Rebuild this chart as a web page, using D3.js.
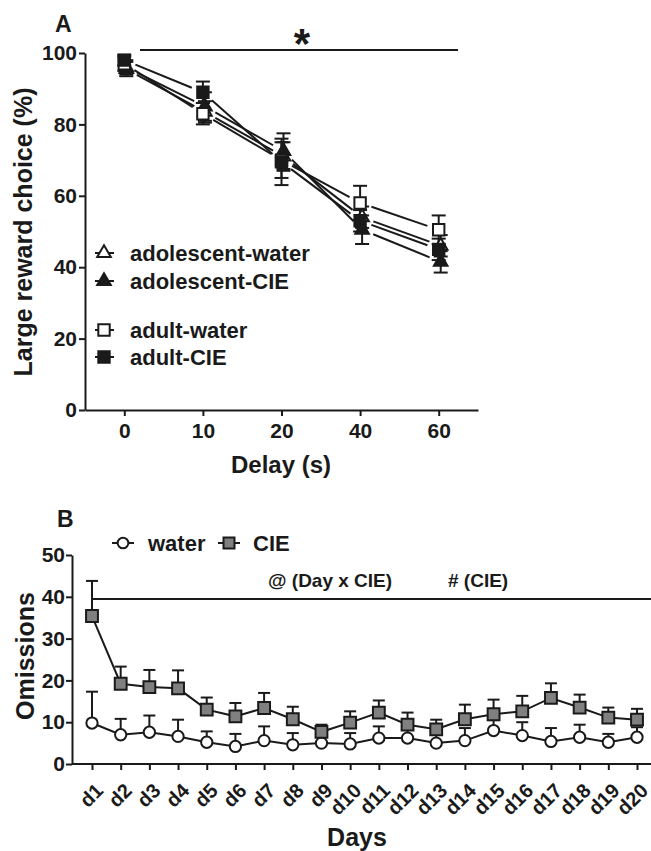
<!DOCTYPE html>
<html>
<head>
<meta charset="utf-8">
<script src="https://cdn.jsdelivr.net/npm/d3@7"></script>
<style>
  body { margin: 0; background: #fff; }
  svg { display: block; }
  text { font-family: "Liberation Sans", Arial, sans-serif; font-weight: bold; fill: #1a1a1a; }
</style>
</head>
<body>
<script>
// ----- Panel A data -----
const delays = ["0", "10", "20", "40", "60"];
const adolWaterMean = [95.5, 83.5, 71, 54, 46];
const adolWaterSem  = [2, 3, 4, 3, 3];
const adolCieMean   = [96, 85, 72.5, 50.5, 41.5];
const adolCieSem    = [2, 4, 5, 4, 3];
const adultWaterMean = [97, 83, 70, 58, 50.5];
const adultWaterSem  = [2, 3, 5, 4.8, 4];
const adultCieMean   = [98, 89, 69.5, 53, 45];
const adultCieSem    = [1.5, 3, 6.5, 3, 3];
const yTicksA = [0, 20, 40, 60, 80, 100];

// ----- Panel B data -----
const days = ["d1","d2","d3","d4","d5","d6","d7","d8","d9","d10",
              "d11","d12","d13","d14","d15","d16","d17","d18","d19","d20"];
const waterMean = [9.8, 7.0, 7.6, 6.6, 5.2, 4.2, 5.6, 4.6, 5.0, 4.8,
                   6.2, 6.2, 5.0, 5.6, 8.0, 6.8, 5.4, 6.4, 5.2, 6.4];
const waterSem  = [7.5, 3.8, 4.0, 4.0, 2.6, 3.0, 3.4, 2.8, 2.0, 2.6,
                   2.8, 2.9, 2.6, 3.0, 2.5, 3.2, 3.2, 3.0, 2.0, 2.4];
const cieMean   = [35.4, 19.2, 18.4, 18.1, 13.0, 11.4, 13.4, 10.7, 7.7, 9.9,
                   12.3, 9.4, 8.3, 10.7, 11.9, 12.6, 15.8, 13.5, 11.1, 10.6];
const cieSem    = [8.4, 4.1, 4.1, 4.3, 2.9, 3.2, 3.6, 3.0, 1.7, 2.7,
                   2.9, 2.9, 2.3, 3.5, 3.5, 3.7, 3.5, 3.1, 2.4, 2.6];
const yTicksB = [0, 10, 20, 30, 40, 50];

const ink = "#1a1a1a";
const svg = d3.select("body").append("svg").attr("width", 651).attr("height", 851);

function styleAxis(g, fontSize) {
  g.select(".domain").attr("stroke", ink).attr("stroke-width", 2);
  g.selectAll(".tick line").attr("stroke", ink).attr("stroke-width", 2);
  g.selectAll(".tick text").attr("fill", ink).style("font-size", fontSize + "px")
    .style("font-family", "'Liberation Sans', Arial, sans-serif").style("font-weight", "bold");
}

// ================= Panel A =================
const xA = d3.scalePoint().domain(delays).range([85, 478]).padding(0.5);
const yA = d3.scaleLinear().domain([0, 100]).range([410, 53]);

const gA = svg.append("g");

gA.append("g").attr("transform", "translate(0,410)")
  .call(d3.axisBottom(xA).tickSize(6).tickSizeOuter(0).tickPadding(7))
  .call(g => styleAxis(g, 21));
gA.append("g").attr("transform", "translate(85,0)")
  .call(d3.axisLeft(yA).tickValues(yTicksA).tickSize(6).tickSizeOuter(0).tickPadding(2))
  .call(g => styleAxis(g, 21));

const seriesA = [
  { name: "adolescent-water", mean: adolWaterMean, sem: adolWaterSem, shape: d3.symbolTriangle, fill: "#fff", dx: 2 },
  { name: "adolescent-CIE", mean: adolCieMean, sem: adolCieSem, shape: d3.symbolTriangle, fill: ink, dx: 2 },
  { name: "adult-water", mean: adultWaterMean, sem: adultWaterSem, shape: d3.symbolSquare, fill: "#fff", dx: 0 },
  { name: "adult-CIE", mean: adultCieMean, sem: adultCieSem, shape: d3.symbolSquare, fill: ink, dx: 0 }
];
function symSize(shape) { return shape === d3.symbolSquare ? 130 : 80; }

// lines with gaps near markers (Prism style)
const gap = 12;
seriesA.forEach(s => {
  const pts = delays.map((d, i) => [xA(d) + s.dx, yA(s.mean[i])]);
  for (let i = 0; i < pts.length - 1; i++) {
    const [ax, ay] = pts[i], [bx, by] = pts[i + 1];
    const len = Math.hypot(bx - ax, by - ay);
    const ux = (bx - ax) / len, uy = (by - ay) / len;
    gA.append("line")
      .attr("x1", ax + ux * gap).attr("y1", ay + uy * gap)
      .attr("x2", bx - ux * gap).attr("y2", by - uy * gap)
      .attr("stroke", ink).attr("stroke-width", 2);
  }
});
// error bars
seriesA.forEach(s => {
  delays.forEach((d, i) => {
    const x = xA(d) + s.dx;
    const y1 = yA(s.mean[i] - s.sem[i]), y2 = yA(s.mean[i] + s.sem[i]);
    gA.append("line").attr("x1", x).attr("x2", x).attr("y1", y1).attr("y2", y2)
      .attr("stroke", ink).attr("stroke-width", 2);
    [y1, y2].forEach(y => gA.append("line").attr("x1", x - 7).attr("x2", x + 7)
      .attr("y1", y).attr("y2", y).attr("stroke", ink).attr("stroke-width", 2));
  });
});
// markers
seriesA.forEach(s => {
  gA.selectAll(null).data(delays).enter().append("path")
    .attr("d", d3.symbol().type(s.shape).size(symSize(s.shape)))
    .attr("transform", (d, i) => `translate(${xA(d) + s.dx},${yA(s.mean[i])})`)
    .attr("fill", s.fill).attr("stroke", ink).attr("stroke-width", 2);
});

// legend A
const legendRowsA = [253, 281, 330, 357];
seriesA.forEach((s, i) => {
  const y = legendRowsA[i];
  gA.append("line").attr("x1", 95).attr("x2", 114).attr("y1", y).attr("y2", y)
    .attr("stroke", ink).attr("stroke-width", 2);
  gA.append("path").attr("d", d3.symbol().type(s.shape).size(symSize(s.shape)))
    .attr("transform", `translate(104,${y})`)
    .attr("fill", s.fill).attr("stroke", ink).attr("stroke-width", 2);
  gA.append("text").attr("x", 130).attr("y", y).attr("dy", "0.36em")
    .style("font-size", "22px").text(s.name);
});

// significance line and star
gA.append("line").attr("x1", 140).attr("x2", 458).attr("y1", 50).attr("y2", 50)
  .attr("stroke", ink).attr("stroke-width", 2);
gA.append("text").attr("x", 302).attr("y", 58).attr("text-anchor", "middle")
  .style("font-size", "42px").text("*");
gA.append("text").attr("x", 55).attr("y", 32).style("font-size", "23px").text("A");

// axis titles
gA.append("text").attr("transform", "translate(32,232) rotate(-90)")
  .attr("text-anchor", "middle").style("font-size", "25px").text("Large reward choice (%)");
gA.append("text").attr("x", 281).attr("y", 473).attr("text-anchor", "middle")
  .style("font-size", "24px").text("Delay (s)");

// ================= Panel B =================
const xB = d3.scalePoint().domain(days).range([92, 637]);
const yB = d3.scaleLinear().domain([0, 50]).range([764, 555]);
const gB = svg.append("g");

const xAxisB = gB.append("g").attr("transform", "translate(0,764)")
  .call(d3.axisBottom(xB).tickSize(6).tickSizeOuter(0))
  .call(g => styleAxis(g, 20));
xAxisB.select(".domain").remove();
xAxisB.selectAll(".tick text")
  .attr("x", 0).attr("y", 0).attr("dy", "0.35em")
  .attr("text-anchor", "end")
  .attr("transform", "translate(7,23) rotate(-45)");
gB.append("line").attr("x1", 72).attr("x2", 651).attr("y1", 764).attr("y2", 764)
  .attr("stroke", ink).attr("stroke-width", 2);

gB.append("g").attr("transform", "translate(72,0)")
  .call(d3.axisLeft(yB).tickValues(yTicksB).tickSize(6).tickSizeOuter(0).tickPadding(1))
  .call(g => styleAxis(g, 21));

const seriesB = [
  { name: "water", mean: waterMean, sem: waterSem, shape: d3.symbolCircle, fill: "#fff" },
  { name: "CIE", mean: cieMean, sem: cieSem, shape: d3.symbolSquare, fill: "#808080" }
];
const line = d3.line().x((d, i) => xB(days[i])).y(d => yB(d));
// error bars (upper only)
seriesB.forEach(s => {
  days.forEach((d, i) => {
    const x = xB(d), y0 = yB(s.mean[i]), y1 = yB(s.mean[i] + s.sem[i]);
    gB.append("line").attr("x1", x).attr("x2", x).attr("y1", y0).attr("y2", y1)
      .attr("stroke", ink).attr("stroke-width", 2);
    gB.append("line").attr("x1", x - 6).attr("x2", x + 6).attr("y1", y1).attr("y2", y1)
      .attr("stroke", ink).attr("stroke-width", 2);
  });
});
seriesB.forEach(s => {
  gB.append("path").datum(s.mean).attr("d", line)
    .attr("fill", "none").attr("stroke", ink).attr("stroke-width", 2);
});
seriesB.forEach(s => {
  gB.selectAll(null).data(days).enter().append("path")
    .attr("d", d3.symbol().type(s.shape).size(s.shape === d3.symbolSquare ? 140 : 100))
    .attr("transform", (d, i) => `translate(${xB(d)},${yB(s.mean[i])})`)
    .attr("fill", s.fill).attr("stroke", ink).attr("stroke-width", 2);
});

// legend B
[{ s: seriesB[0], cx: 123, tx: 148 }, { s: seriesB[1], cx: 229, tx: 253 }].forEach(l => {
  gB.append("line").attr("x1", l.cx - 11).attr("x2", l.cx + 11).attr("y1", 543).attr("y2", 543)
    .attr("stroke", ink).attr("stroke-width", 2);
  gB.append("path").attr("d", d3.symbol().type(l.s.shape).size(l.s.shape === d3.symbolSquare ? 120 : 90))
    .attr("transform", `translate(${l.cx},543)`)
    .attr("fill", l.s.fill).attr("stroke", ink).attr("stroke-width", 2);
  gB.append("text").attr("x", l.tx).attr("y", 543).attr("dy", "0.36em")
    .style("font-size", "22px").text(l.s.name);
});

// significance line and annotations
gB.append("line").attr("x1", xB("d1")).attr("x2", 651).attr("y1", yB(39.5)).attr("y2", yB(39.5))
  .attr("stroke", ink).attr("stroke-width", 2);
gB.append("text").attr("x", 268).attr("y", 580).attr("dy", "0.36em")
  .style("font-size", "19px").text("@ (Day x CIE)");
gB.append("text").attr("x", 448).attr("y", 580).attr("dy", "0.36em")
  .style("font-size", "19px").text("# (CIE)");
gB.append("text").attr("x", 57).attr("y", 527).style("font-size", "23px").text("B");

gB.append("text").attr("transform", "translate(34,656) rotate(-90)")
  .attr("text-anchor", "middle").style("font-size", "25px").text("Omissions");
gB.append("text").attr("x", 357).attr("y", 846).attr("text-anchor", "middle")
  .style("font-size", "25px").text("Days");
</script>
</body>
</html>
